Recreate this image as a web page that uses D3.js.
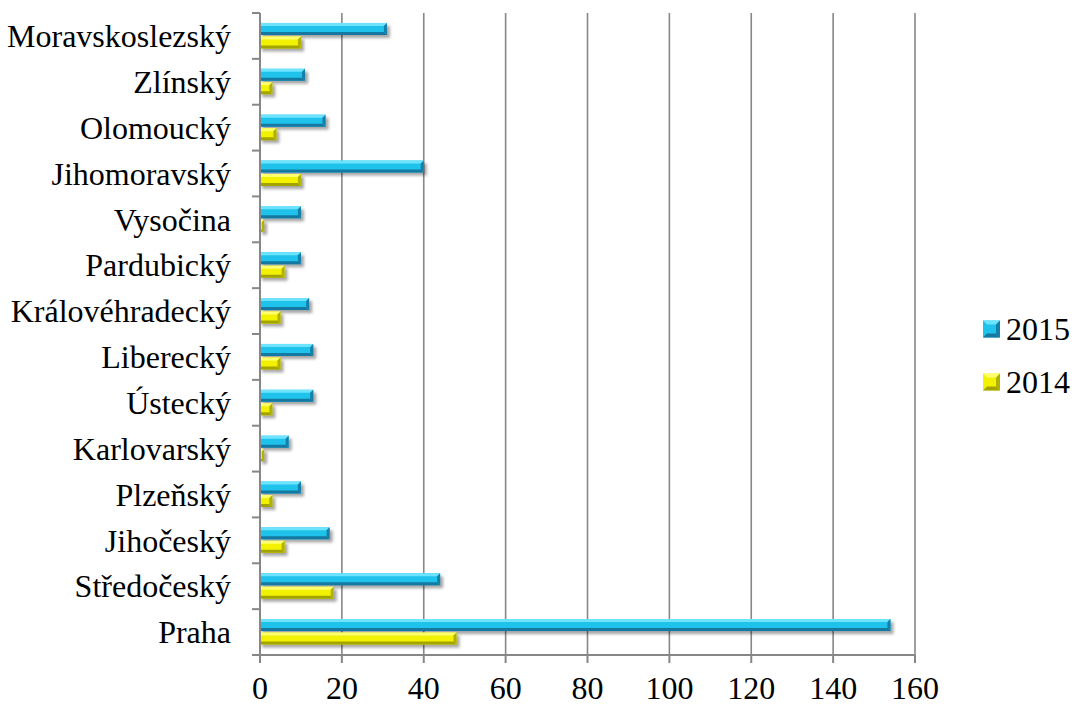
<!DOCTYPE html>
<html><head><meta charset="utf-8">
<script src="https://cdn.jsdelivr.net/npm/d3@7"></script>
<style>body{margin:0;background:#fff;}svg{display:block;}</style>
</head><body>
<script>
const categories = ["Praha","Středočeský","Jihočeský","Plzeňský","Karlovarský","Ústecký","Liberecký","Královéhradecký","Pardubický","Vysočina","Jihomoravský","Olomoucký","Zlínský","Moravskoslezský"];
const values2015 = [154,44,17,10,7,13,13,12,10,10,40,16,11,31];
const values2014 = [48,18,6,3,1,3,5,5,6,1,10,4,3,10];
const xTicks = [0,20,40,60,80,100,120,140,160];
const seriesNames = ["2015","2014"];

const W=1073,H=706;
const svg=d3.select("body").append("svg").attr("width",W).attr("height",H);
const defs=svg.append("defs");
const f=defs.append("filter").attr("id","sh").attr("x","-10%").attr("y","-50%").attr("width","130%").attr("height","250%");
f.append("feGaussianBlur").attr("stdDeviation",1.6);

const x=d3.scaleLinear().domain([0,160]).range([260,915]);
const y=d3.scaleBand().domain(categories).range([655,13]);
const font="'Liberation Serif','Times New Roman',serif";
const axisCol="#878787";

// gridlines
svg.append("g").selectAll("line").data(xTicks.slice(1)).join("line")
  .attr("x1",d=>x(d)).attr("x2",d=>x(d)).attr("y1",13).attr("y2",655)
  .attr("stroke",axisCol).attr("stroke-width",1.6);

const styles={
  "2015":{main:"#1fc2ea",top:"#6ee3ff",bot:"#1478a0",end:"#167fa8"},
  "2014":{main:"#f2f200",top:"#ffff70",bot:"#a3a300",end:"#b0b000"}
};
function bevelBar(g,x0,x1,y0,h,st){
  const y1=y0+h,b=Math.min(3,(x1-x0)/2);
  g.append("rect").attr("x",x0+2).attr("y",y0+3).attr("width",x1-x0+1).attr("height",h)
    .attr("fill","#000").attr("opacity",0.35).attr("filter","url(#sh)");
  g.append("rect").attr("x",x0).attr("y",y0).attr("width",x1-x0).attr("height",h).attr("fill",st.main);
  g.append("polygon").attr("points",`${x0},${y0} ${x1},${y0} ${x1-b},${y0+b} ${x0},${y0+b}`).attr("fill",st.top);
  g.append("polygon").attr("points",`${x0},${y1} ${x1},${y1} ${x1-b},${y1-b} ${x0},${y1-b}`).attr("fill",st.bot);
  g.append("polygon").attr("points",`${x1},${y0} ${x1},${y1} ${x1-b},${y1-b} ${x1-b},${y0+b}`).attr("fill",st.end);
}
const bars=svg.append("g");
categories.forEach((c,i)=>{
  const cy=y(c)+y.bandwidth()/2;
  bevelBar(bars,x(0),x(values2015[i]),cy-13,12,styles["2015"]);
  bevelBar(bars,x(0),x(values2014[i]),cy+0.5,12,styles["2014"]);
});

// y axis
const ya=svg.append("g");
ya.append("line").attr("x1",260).attr("x2",260).attr("y1",13).attr("y2",655).attr("stroke",axisCol).attr("stroke-width",2);
const bounds=categories.map(c=>y(c)).concat([y(categories[0])+y.bandwidth()]);
ya.selectAll("line.t").data(bounds).join("line").attr("class","t")
  .attr("x1",252).attr("x2",260).attr("y1",d=>d).attr("y2",d=>d).attr("stroke",axisCol).attr("stroke-width",2);
ya.selectAll("text").data(categories).join("text")
  .attr("x",231).attr("y",c=>y(c)+y.bandwidth()/2).attr("dy","0.35em")
  .attr("text-anchor","end").attr("font-family",font).attr("font-size",32).attr("fill","#000").text(c=>c);

// x axis
const xa=svg.append("g");
xa.append("line").attr("x1",252).attr("x2",915).attr("y1",655).attr("y2",655).attr("stroke",axisCol).attr("stroke-width",2);
xa.selectAll("line.t").data(xTicks).join("line").attr("class","t")
  .attr("x1",d=>x(d)).attr("x2",d=>x(d)).attr("y1",655).attr("y2",663).attr("stroke",axisCol).attr("stroke-width",2);
xa.selectAll("text").data(xTicks).join("text")
  .attr("x",d=>x(d)).attr("y",699).attr("text-anchor","middle")
  .attr("font-family",font).attr("font-size",32).attr("fill","#000").text(d=>d);

// legend
const lg=svg.append("g");
seriesNames.forEach((s,i)=>{
  const ly=329+i*53;
  const st=styles[s];
  const sz=17,sx=983,sy=ly-sz/2,b=4;
  lg.append("rect").attr("x",sx).attr("y",sy).attr("width",sz).attr("height",sz).attr("fill",st.main);
  lg.append("polygon").attr("points",`${sx},${sy} ${sx+sz},${sy} ${sx+sz-b},${sy+b} ${sx+b},${sy+b}`).attr("fill",st.top);
  lg.append("polygon").attr("points",`${sx},${sy+sz} ${sx+sz},${sy+sz} ${sx+sz-b},${sy+sz-b} ${sx+b},${sy+sz-b}`).attr("fill",st.bot);
  lg.append("polygon").attr("points",`${sx+sz},${sy} ${sx+sz},${sy+sz} ${sx+sz-b},${sy+sz-b} ${sx+sz-b},${sy+b}`).attr("fill",st.end);
  lg.append("text").attr("x",1006).attr("y",ly+11).attr("font-family",font).attr("font-size",32).attr("fill","#000").text(s);
});
</script>
</body></html>
